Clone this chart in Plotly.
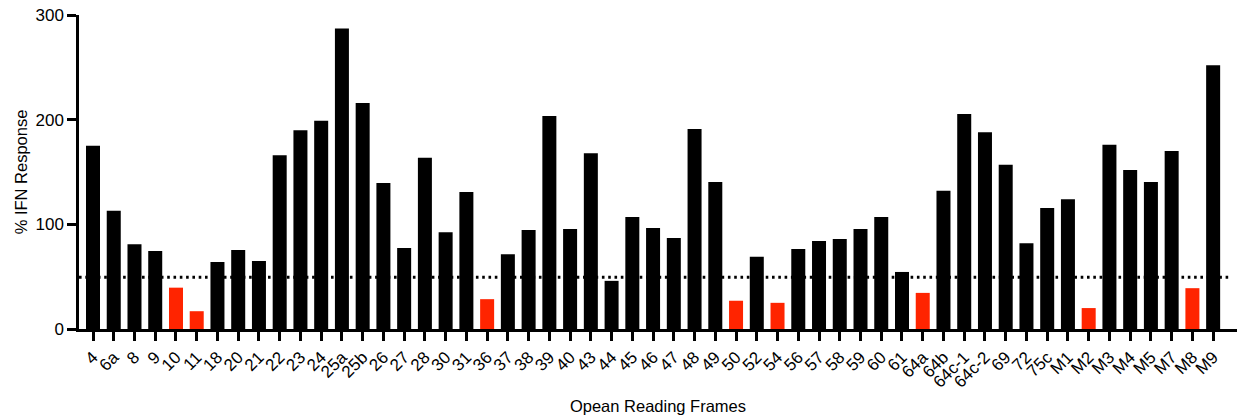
import plotly.graph_objects as go

# ---- data ----
orfs = ["4", "6a", "8", "9", "10", "11", "18", "20", "21", "22",
        "23", "24", "25a", "25b", "26", "27", "28", "30", "31", "36",
        "37", "38", "39", "40", "43", "44", "45", "46", "47", "48",
        "49", "50", "52", "54", "56", "57", "58", "59", "60", "61",
        "64a", "64b", "64c-1", "64c-2", "69", "72", "75c", "M1", "M2", "M3",
        "M4", "M5", "M7", "M8", "M9"]
ifn_response = [175, 113, 81, 74.5, 39.5, 17, 64, 75.5, 65, 166,
                190, 199, 287, 216, 139.5, 77.5, 163.5, 92.5, 131, 28.5,
                71.5, 94.5, 203.5, 95.5, 168, 46, 107, 96.5, 87, 191,
                140.5, 27, 69, 25, 76.5, 84, 86, 95.5, 107, 54.5,
                34.5, 132, 205.5, 188, 157, 82, 115.5, 124, 20, 176,
                152, 140.5, 170, 39, 252]
red_orfs = ["10", "11", "36", "50", "54", "64a", "M2", "M8"]
threshold = 49.5
y_ticks = [0, 100, 200, 300]

BLACK = "#000000"
RED = "#FF2400"
colors = [RED if o in red_orfs else BLACK for o in orfs]

fig = go.Figure()
fig.add_trace(go.Bar(
    x=orfs, y=ifn_response,
    marker=dict(color=colors, line=dict(width=0)),
    showlegend=False,
))

fig.add_shape(type="line", xref="paper", yref="y",
              x0=0.0, x1=0.994, y0=threshold, y1=threshold,
              line=dict(color=BLACK, width=3, dash="2.6px,3.7px"))

FONT = "Liberation Sans, Arial, sans-serif"
fig.update_layout(
    width=1238, height=419,
    margin=dict(l=79, r=1, t=15, b=90),
    paper_bgcolor="white", plot_bgcolor="white",
    bargap=0.325,
    font=dict(family=FONT, color="black"),
    xaxis=dict(
        type="category",
        range=[-0.675, 55.15],
        showline=True, linecolor="black", linewidth=2.5,
        ticks="outside", ticklen=9, tickwidth=2.5, tickcolor="black",
        tickangle=-45, tickfont=dict(size=17, family=FONT, color="black"),
        showgrid=False, zeroline=False,
        title=dict(text="Opean Reading Frames", font=dict(size=16.5, family=FONT, color="black"), standoff=10),
    ),
    yaxis=dict(
        range=[0, 300],
        tickvals=y_ticks,
        showline=True, linecolor="black", linewidth=2.5,
        ticks="outside", ticklen=9, tickwidth=2.5, tickcolor="black",
        tickfont=dict(size=17, family=FONT, color="black"),
        showgrid=False, zeroline=False,
        title=dict(text="% IFN Response", font=dict(size=16.5, family=FONT, color="black"), standoff=4),
    ),
)

fig.write_html("out.html")
